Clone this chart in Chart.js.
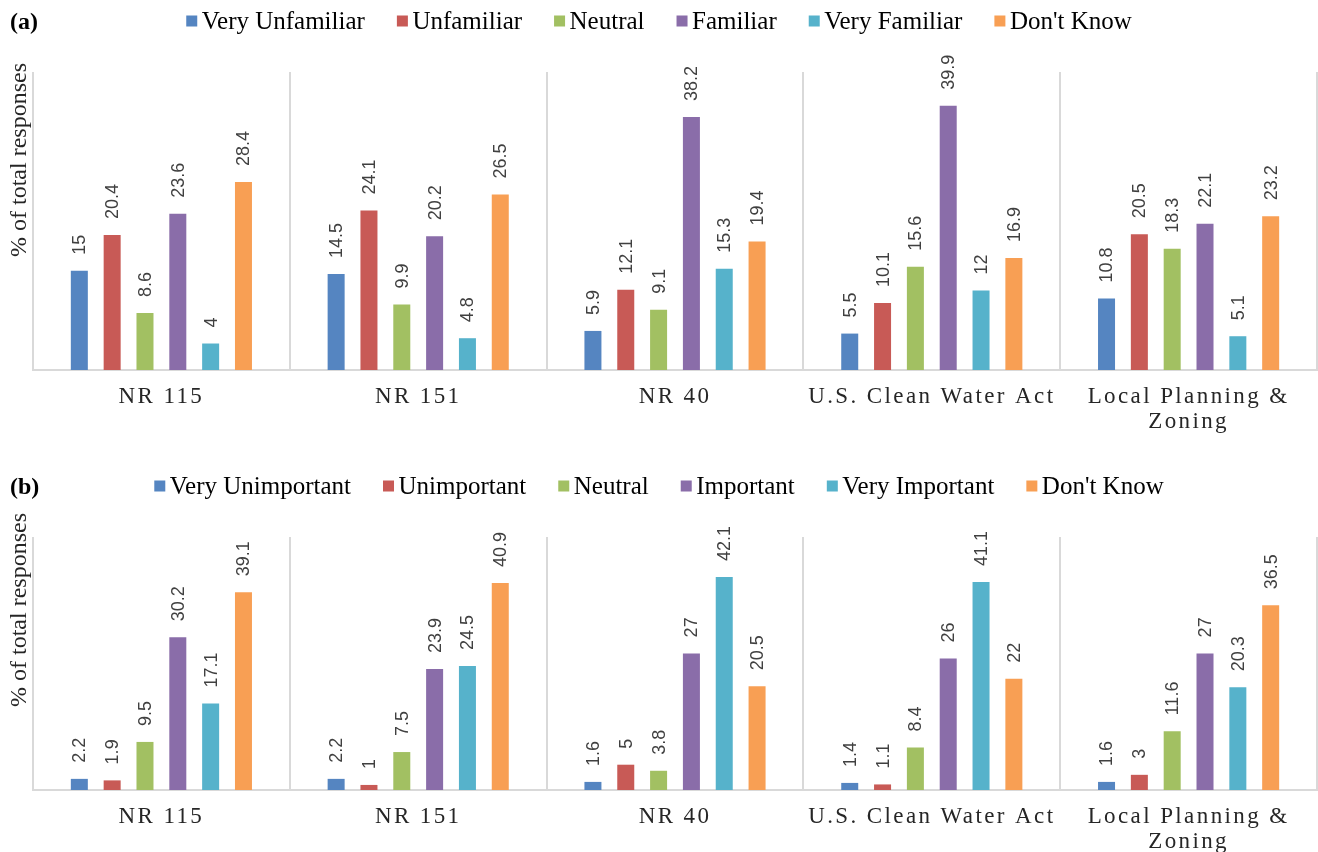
<!DOCTYPE html>
<html>
<head>
<meta charset="utf-8">
<script src="https://cdn.jsdelivr.net/npm/chart.js@4.4.0/dist/chart.umd.min.js"></script>
<style>
  html, body { margin: 0; padding: 0; background: #ffffff; }
  #wrap { position: relative; width: 1318px; height: 852px; overflow: hidden; background: #ffffff; }
  #wrap canvas { position: absolute; left: 0; }
</style>
</head>
<body>
<div id="wrap">
  <canvas id="chartA" width="1318" height="440" style="top:0px"></canvas>
  <canvas id="chartB" width="1318" height="412" style="top:440px"></canvas>
</div>
<script>
// Regulations asked about in the survey (x-axis categories)
const categories = ['NR 115', 'NR 151', 'NR 40', 'U.S. Clean Water Act', ['Local Planning &', 'Zoning']];

// (a) Familiarity, % of total responses
const familiarityLabels = ['Very Unfamiliar', 'Unfamiliar', 'Neutral', 'Familiar', 'Very Familiar', "Don't Know"];
const veryUnfamiliar = [15, 14.5, 5.9, 5.5, 10.8];
const unfamiliar     = [20.4, 24.1, 12.1, 10.1, 20.5];
const neutralA       = [8.6, 9.9, 9.1, 15.6, 18.3];
const familiar       = [23.6, 20.2, 38.2, 39.9, 22.1];
const veryFamiliar   = [4, 4.8, 15.3, 12, 5.1];
const dontKnowA      = [28.4, 26.5, 19.4, 16.9, 23.2];

// (b) Importance, % of total responses
const importanceLabels = ['Very Unimportant', 'Unimportant', 'Neutral', 'Important', 'Very Important', "Don't Know"];
const veryUnimportant = [2.2, 2.2, 1.6, 1.4, 1.6];
const unimportant     = [1.9, 1, 5, 1.1, 3];
const neutralB        = [9.5, 7.5, 3.8, 8.4, 11.6];
const important       = [30.2, 23.9, 27, 26, 27];
const veryImportant   = [17.1, 24.5, 42.1, 41.1, 20.3];
const dontKnowB       = [39.1, 40.9, 20.5, 22, 36.5];

const palette = ['#5585C1', '#C85A56', '#A2C062', '#8A6DA9', '#56B2CB', '#F89F54'];
const yTitle = '% of total responses';

const SERIF = '"Liberation Serif", "Times New Roman", serif';
const SANS = '"Liberation Sans", Arial, sans-serif';

// Draws value labels, the legend row, panel tag and the y-axis title
function decorations(opts) {
  return {
    id: 'decorations',
    afterDatasetsDraw(chart) {
      const ctx = chart.ctx;
      ctx.save();
      ctx.letterSpacing = '0px';
      ctx.font = '18px ' + SANS;
      ctx.fillStyle = '#404040';
      ctx.textAlign = 'left';
      ctx.textBaseline = 'middle';
      chart.data.datasets.forEach((ds, di) => {
        const meta = chart.getDatasetMeta(di);
        meta.data.forEach((bar, i) => {
          ctx.save();
          ctx.translate(bar.x + 1, bar.y - 16);
          ctx.rotate(-Math.PI / 2);
          ctx.fillText(String(ds.data[i]), 0, 0);
          ctx.restore();
        });
      });
      ctx.restore();
      // spaced-out category labels are drawn after this hook (ticks z = 1)
      ctx.letterSpacing = '2.4px';
    },
    afterDraw(chart) {
      const ctx = chart.ctx;
      ctx.letterSpacing = '0px';
      ctx.save();

      // panel tag
      ctx.font = 'bold 24px ' + SERIF;
      ctx.fillStyle = '#000000';
      ctx.textAlign = 'left';
      ctx.textBaseline = 'middle';
      ctx.fillText(opts.tag, 10, opts.legendY + 2);

      // legend row
      ctx.font = '25px ' + SERIF;
      const box = 11, gapIn = 4.5, gapOut = 32;
      const items = chart.data.datasets.map(d => ({ text: d.label, color: d.backgroundColor, w: ctx.measureText(d.label).width }));
      let total = items.reduce((s, it) => s + box + gapIn + it.w, 0) + gapOut * (items.length - 1);
      let x = chart.width / 2 - total / 2;
      items.forEach(it => {
        ctx.fillStyle = it.color;
        ctx.fillRect(x, opts.legendY - box / 2, box, box);
        ctx.fillStyle = '#000000';
        ctx.fillText(it.text, x + box + gapIn, opts.legendY + 1.5);
        x += box + gapIn + it.w + gapOut;
      });

      // y-axis title
      ctx.font = '24px ' + SERIF;
      ctx.fillStyle = '#262626';
      ctx.textAlign = 'right';
      ctx.textBaseline = 'middle';
      ctx.translate(20, opts.titleTop);
      ctx.rotate(-Math.PI / 2);
      ctx.fillText(yTitle, 0, 0);
      ctx.restore();
    }
  };
}

function makeChart(id, seriesNames, seriesData, yMax, axisHeight, padTop, opts) {
  const datasets = seriesNames.map((name, i) => ({
    label: name,
    data: seriesData[i],
    backgroundColor: palette[i],
    borderWidth: 0,
    categoryPercentage: 0.767,
    barPercentage: 0.518
  }));
  return new Chart(document.getElementById(id), {
    type: 'bar',
    data: { labels: categories, datasets },
    options: {
      responsive: false,
      animation: false,
      devicePixelRatio: 1,
      layout: { padding: { left: 33, right: 1, top: padTop, bottom: 0 } },
      plugins: { legend: { display: false }, tooltip: { enabled: false } },
      scales: {
        x: {
          grid: { display: true, drawOnChartArea: true, drawTicks: false, color: '#d9d9d9', lineWidth: 2, offset: true },
          border: { display: true, color: '#d9d9d9', width: 2 },
          ticks: {
            z: 1,
            color: '#262626',
            padding: 14.5,
            maxRotation: 0,
            autoSkip: false,
            font: { family: SERIF, size: 23, lineHeight: 1.1 }
          },
          afterFit(scale) { scale.height = axisHeight; }
        },
        y: { display: false, min: 0, max: yMax }
      }
    },
    plugins: [decorations(opts)]
  });
}

makeChart('chartA', familiarityLabels,
  [veryUnfamiliar, unfamiliar, neutralA, familiar, veryFamiliar, dontKnowA],
  45, 70, 72, { tag: '(a)', legendY: 21, titleTop: 63 });

makeChart('chartB', importanceLabels,
  [veryUnimportant, unimportant, neutralB, important, veryImportant, dontKnowB],
  50, 62, 97, { tag: '(b)', legendY: 46, titleTop: 73 });
</script>
</body>
</html>
